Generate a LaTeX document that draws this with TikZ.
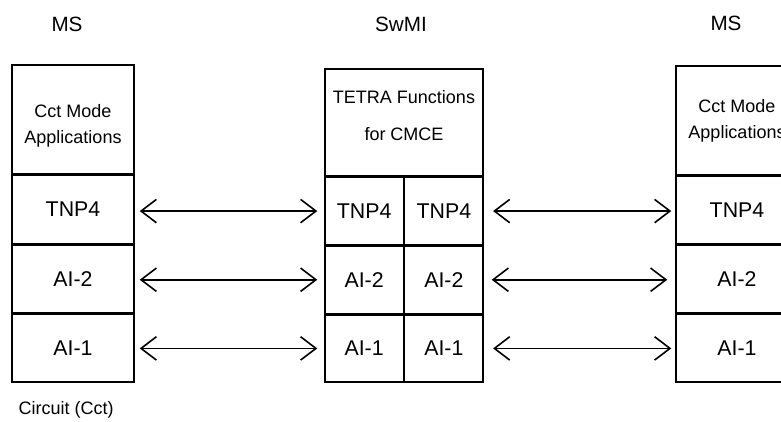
\documentclass[tikz,border=0pt]{standalone}
\usepackage{fontspec}
\setmainfont{Liberation Sans}
\usetikzlibrary{positioning}
\usetikzlibrary{arrows.meta}
\tikzset{x=0.75pt, y=-0.75pt, % One unit is one pixel of the drawing
layerbox/.style=
    { % Sets the properties for each protocol box
        draw,
        line width=1.1pt,
        inner sep=0pt
    },
    appbox/.style={layerbox, align=center, font=\fontsize{13.5}{19.5}\selectfont}, % Top box of a stack
    rowbox/.style={layerbox, font=\fontsize{16}{19}\selectfont}, % One layer of a stack
    title/.style={font=\fontsize{15.5}{18}\selectfont},
    peer/.style={ % Sets the properties for each peer arrow
        <->,>={Straight Barb[length=11.5pt,width=17.5pt]},
        line width=1.2pt
    }
}
\begin{document}
\begin{tikzpicture}
    \useasboundingbox (0,0) rectangle (781,421);
    \clip (0,0) rectangle (781,421);
    % left MS
    \node[title] (lms) at (67,24) {MS};
    \node[appbox, minimum width=91.5pt, text height=58.5pt, text depth=23.25pt] (lapp) at (73,119.5) {Cct Mode\\Applications};
    \node[rowbox, minimum width=91.5pt, minimum height=50.9pt, below=0pt of lapp] (ltnp) {TNP4};
    \node[rowbox, minimum width=91.5pt, minimum height=50.9pt, below=0pt of ltnp] (lai2) {AI-2};
    \node[rowbox, minimum width=91.5pt, minimum height=50.9pt, below=0pt of lai2] (lai1) {AI-1};
    % SwMI
    \node[title] (swmi) at (401,24) {SwMI};
    \node[appbox, minimum width=118.5pt, text height=53.25pt, text depth=27pt, font=\fontsize{13.5}{27.75}\selectfont] (mapp) at (404,122.5) {TETRA Functions\\for CMCE};
    \node[rowbox, minimum width=58.7pt, minimum height=50.4pt, below right=0pt of mapp.south west] (mtnpa) {TNP4};
    \node[rowbox, minimum width=58.7pt, minimum height=50.4pt, right=0pt of mtnpa] (mtnpb) {TNP4};
    \node[rowbox, minimum width=58.7pt, minimum height=50.4pt, below=0pt of mtnpa] (mai2a) {AI-2};
    \node[rowbox, minimum width=58.7pt, minimum height=50.4pt, below=0pt of mtnpb] (mai2b) {AI-2};
    \node[rowbox, minimum width=58.7pt, minimum height=50.4pt, below=0pt of mai2a] (mai1a) {AI-1};
    \node[rowbox, minimum width=58.7pt, minimum height=50.4pt, below=0pt of mai2b] (mai1b) {AI-1};
    % right MS
    \node[title] (rms) at (726,23) {MS};
    \node[appbox, minimum width=91.5pt, text height=54pt, text depth=27.75pt] (rapp) at (737,120.5) {Cct Mode\\Applications};
    \node[rowbox, minimum width=91.5pt, minimum height=50.65pt, below=0pt of rapp] (rtnp) {TNP4};
    \node[rowbox, minimum width=91.5pt, minimum height=50.65pt, below=0pt of rtnp] (rai2) {AI-2};
    \node[rowbox, minimum width=91.5pt, minimum height=50.65pt, below=0pt of rai2] (rai1) {AI-1};
    \node[appbox, draw=none, anchor=west] (cct) at (18,410) {Circuit (Cct)};
    \draw[peer, shorten <=3.75pt, shorten >=5.25pt]
    (mtnpa.west -| ltnp.east) -- (mtnpa.west);
    \draw[peer, shorten <=3.75pt, shorten >=5.25pt]
    (mai2a.west -| lai2.east) -- (mai2a.west);
    \draw[peer, shorten <=3.75pt, shorten >=5.25pt]
    (mai1a.west -| lai1.east) -- (mai1a.west);
    \draw[peer, shorten <=7pt, shorten >=3pt]
    (mtnpb.east) -- (mtnpb.east -| rtnp.west);
    \draw[peer, shorten <=6pt, shorten >=6pt]
    (mai2b.east) -- (mai2b.east -| rai2.west);
    \draw[peer, shorten <=7pt, shorten >=3pt]
    (mai1b.east) -- (mai1b.east -| rai1.west);
\end{tikzpicture}
\end{document}
